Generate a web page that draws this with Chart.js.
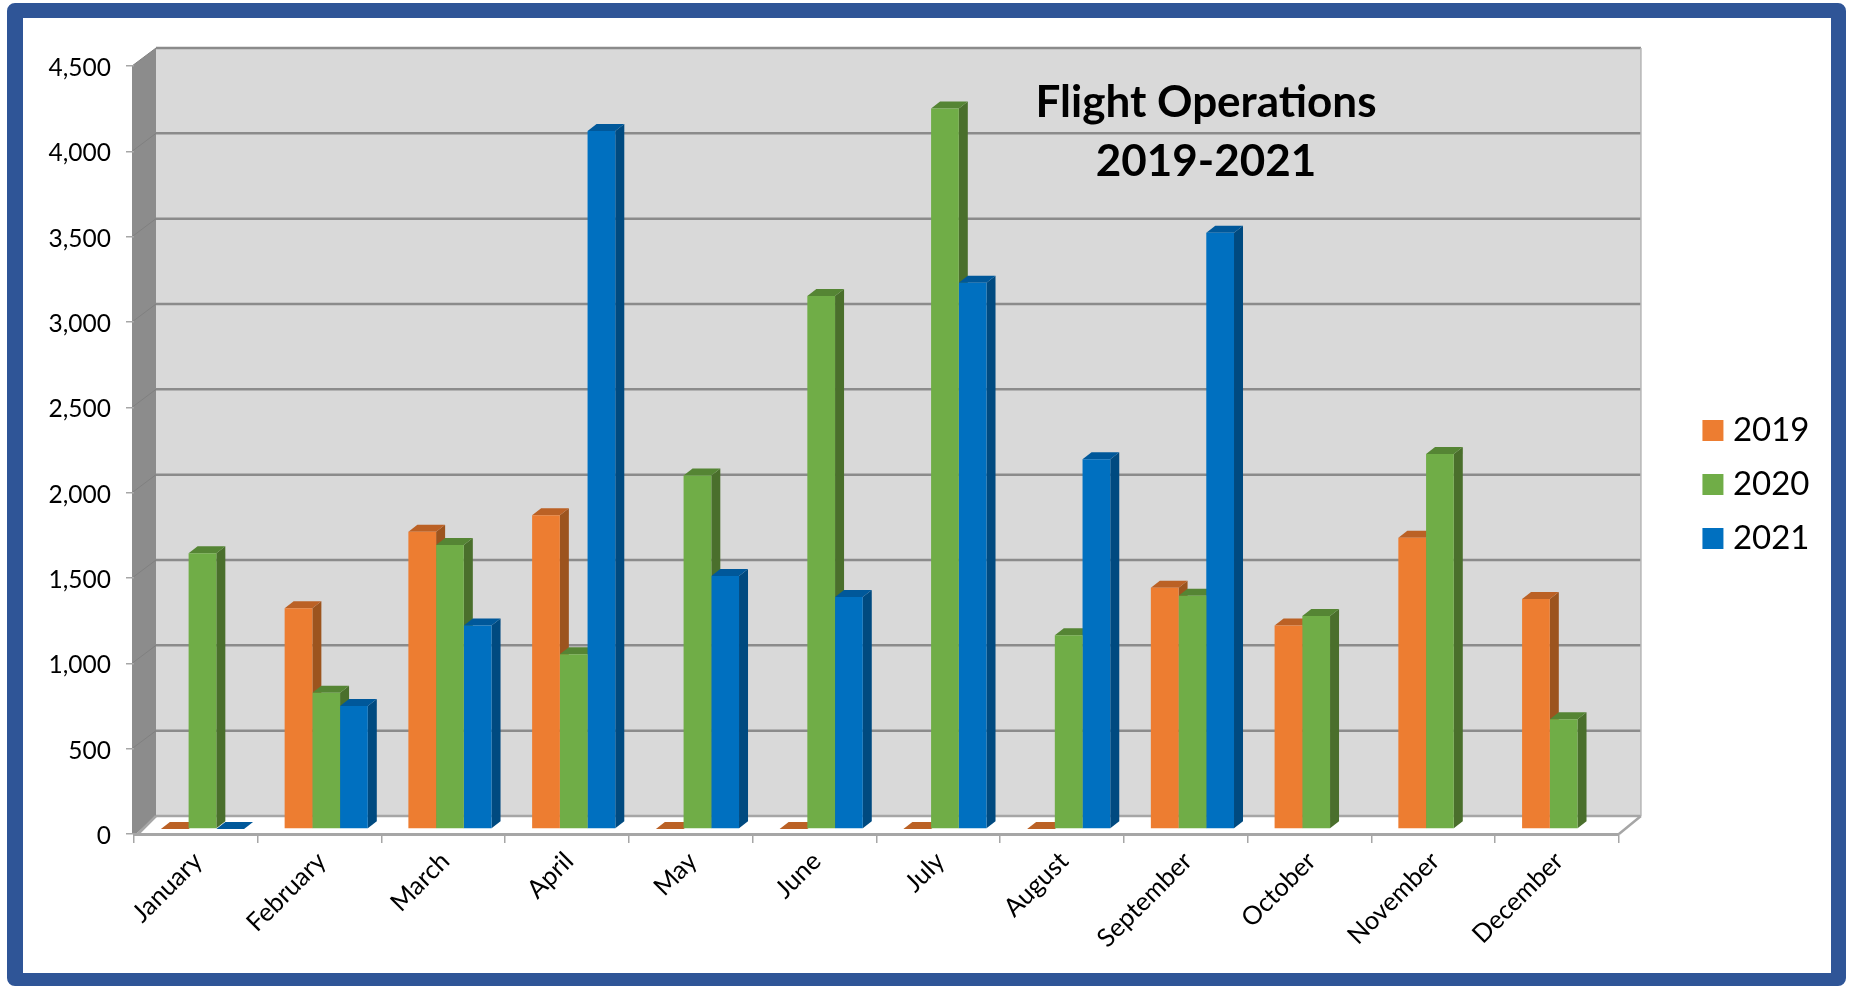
<!DOCTYPE html>
<html lang="en">
<head>
  <meta charset="UTF-8" />
  <title>Flight Operations 2019-2021</title>
  <style>
    * {
      box-sizing: border-box;
    }
    body {
      margin: 0;
      background: #fff;
    }
    canvas {
      display: block;
    }
    .frame {
      position: absolute;
      left: 7px;
      top: 3px;
      width: 1839px;
      height: 983px;
      border: solid #2f5597;
      border-width: 15px 15px 13px 16px;
      border-radius: 8px;
      pointer-events: none;
    }
  </style>
</head>
<body>
  <canvas id="flightChart" width="1852" height="987"></canvas>
  <div class="frame"></div>

  <script src="https://cdn.jsdelivr.net/npm/chart.js"></script>
  <script>
    const months = ['January', 'February', 'March', 'April', 'May', 'June', 'July', 'August', 'September', 'October', 'November', 'December'];
    const ops2019 = [0, 1293, 1742, 1838, 0, 0, 0, 0, 1414, 1193, 1707, 1348];
    const ops2020 = [1615, 799, 1664, 1024, 2072, 3123, 4222, 1135, 1367, 1248, 2197, 643];
    const ops2021 = [0, 721, 1193, 4090, 1482, 1359, 3201, 2166, 3494, null, null, null];
    const years = ['2019', '2020', '2021'];
    const titleLines = ['Flight Operations', '2019-2021'];

    const frontColors = ['#ed7d31', '#70ad47', '#0070c0'];
    const sideColors = ['#9c541e', '#4a6f2c', '#004a80'];
    const topColors = ['#bb6125', '#558534', '#00589a'];

    const FONT = 'Lato, sans-serif';
    // depth of the back wall and of the bars, in px
    const wallDx = 23, wallDy = 18;
    const barDx = 9, barDy = 7;
    const barShiftX = 6.6, barShiftY = -5;

    const depthPlugin = {
      id: 'depth',
      afterLayout(chart) {
        // the legend sits further right and higher than the layout puts it
        chart.legend.left += 69.5;
        chart.legend.right += 69.5;
        chart.legend.top -= 42;
        chart.legend.bottom -= 42;
      },
      beforeDraw(chart) {
        const { ctx, chartArea: a, scales: { y } } = chart;
        const left = a.left - 2, right = a.right + wallDx - 1;
        const bx = a.left + wallDx - 1;
        ctx.save();
        // back wall
        ctx.fillStyle = '#d9d9d9';
        ctx.fillRect(bx, a.top - wallDy, right - bx, a.height);
        // left wall
        ctx.fillStyle = '#8c8c8c';
        ctx.beginPath();
        ctx.moveTo(left, a.top);
        ctx.lineTo(bx, a.top - wallDy);
        ctx.lineTo(bx, a.bottom - wallDy);
        ctx.lineTo(left + 4, a.bottom);
        ctx.lineTo(left, a.bottom);
        ctx.closePath();
        ctx.fill();
        // grid lines on both walls
        y.ticks.forEach((t) => {
          const py = y.getPixelForValue(t.value);
          ctx.strokeStyle = '#808080';
          ctx.lineWidth = 1;
          if (t.value > 0) {
            ctx.beginPath();
            ctx.moveTo(left, py);
            ctx.lineTo(bx, py - wallDy);
            ctx.stroke();
          }
          ctx.strokeStyle = t.value > 0 ? '#8b8b8b' : '#a6a6a6';
          ctx.lineWidth = 2.5;
          ctx.beginPath();
          ctx.moveTo(bx, py - wallDy);
          ctx.lineTo(right, py - wallDy);
          ctx.stroke();
        });
        // right edge of the wall and the floor
        ctx.strokeStyle = '#b5b5b5';
        ctx.lineWidth = 1.5;
        ctx.beginPath();
        ctx.moveTo(right, a.top - wallDy);
        ctx.lineTo(right, a.bottom - wallDy);
        ctx.stroke();
        ctx.strokeStyle = '#a6a6a6';
        ctx.lineWidth = 2.5;
        ctx.beginPath();
        ctx.moveTo(right, a.bottom - wallDy);
        ctx.lineTo(a.right, a.bottom);
        ctx.moveTo(bx, a.bottom - wallDy);
        ctx.lineTo(left + 6, a.bottom);
        ctx.stroke();
        ctx.restore();
      },
      beforeDatasetsDraw(chart) {
        const { ctx } = chart;
        ctx.save();
        ctx.translate(barShiftX, barShiftY);
        months.forEach((m, i) => {
          chart.data.datasets.forEach((ds, d) => {
            if (ds.data[i] === null) return;
            const bar = chart.getDatasetMeta(d).data[i];
            const l = bar.x - bar.width / 2, r = bar.x + bar.width / 2;
            if (ds.data[i] > 0) {
              ctx.fillStyle = sideColors[d];
              ctx.beginPath();
              ctx.moveTo(r, bar.y);
              ctx.lineTo(r + barDx, bar.y - barDy);
              ctx.lineTo(r + barDx, bar.base - barDy);
              ctx.lineTo(r, bar.base);
              ctx.closePath();
              ctx.fill();
            }
            ctx.fillStyle = topColors[d];
            ctx.beginPath();
            ctx.moveTo(l, bar.y);
            ctx.lineTo(l + barDx, bar.y - barDy);
            ctx.lineTo(r + barDx, bar.y - barDy);
            ctx.lineTo(r, bar.y);
            ctx.closePath();
            ctx.fill();
          });
        });
      },
      afterDatasetsDraw(chart) {
        chart.ctx.restore();
      },
      afterDraw(chart) {
        const { ctx } = chart;
        ctx.save();
        ctx.fillStyle = '#000';
        ctx.font = 'bold 44px ' + FONT;
        ctx.textAlign = 'center';
        ctx.textBaseline = 'middle';
        titleLines.forEach((line, i) => ctx.fillText(line, 1206, 103 + i * 59));
        ctx.restore();
      }
    };

    const tickGrid = { drawOnChartArea: false, drawTicks: true, color: '#a6a6a6', lineWidth: 1.5 };

    new Chart(document.getElementById('flightChart'), {
      type: 'bar',
      plugins: [depthPlugin],
      data: {
        labels: months,
        datasets: [
          { label: years[0], data: ops2019, backgroundColor: frontColors[0] },
          { label: years[1], data: ops2020, backgroundColor: frontColors[1] },
          { label: years[2], data: ops2021, backgroundColor: frontColors[2] }
        ]
      },
      options: {
        responsive: false,
        animation: false,
        categoryPercentage: 0.672,
        barPercentage: 1,
        layout: { padding: { top: 66, right: 102 } },
        plugins: {
          tooltip: { enabled: false },
          legend: {
            position: 'right',
            labels: {
              boxWidth: 7,
              boxHeight: 7,
              padding: 21,
              color: '#000',
              font: { family: FONT, size: 33, lineHeight: 1 },
              generateLabels(chart) {
                return Chart.defaults.plugins.legend.labels.generateLabels(chart).map((item, i) => {
                  item.lineWidth = 14;
                  item.strokeStyle = frontColors[i];
                  return item;
                });
              }
            }
          }
        },
        scales: {
          x: {
            afterFit(scale) { scale.height = 153; },
            grid: { ...tickGrid, tickLength: 9 },
            border: { color: '#a6a6a6', width: 3 },
            ticks: {
              autoSkip: false,
              minRotation: 45,
              maxRotation: 45,
              padding: 3,
              labelOffset: 2,
              color: '#000',
              font: { family: FONT, size: 25.5 }
            }
          },
          y: {
            min: 0,
            max: 4500,
            afterFit(scale) { scale.width = 134; },
            grid: { ...tickGrid, tickLength: 8 },
            border: { display: false },
            ticks: {
              stepSize: 500,
              padding: 15,
              labelOffset: 2,
              color: '#000',
              font: { family: FONT, size: 24.5 },
              callback: (v) => v.toLocaleString('en-US')
            }
          }
        }
      }
    });
  </script>
</body>
</html>
